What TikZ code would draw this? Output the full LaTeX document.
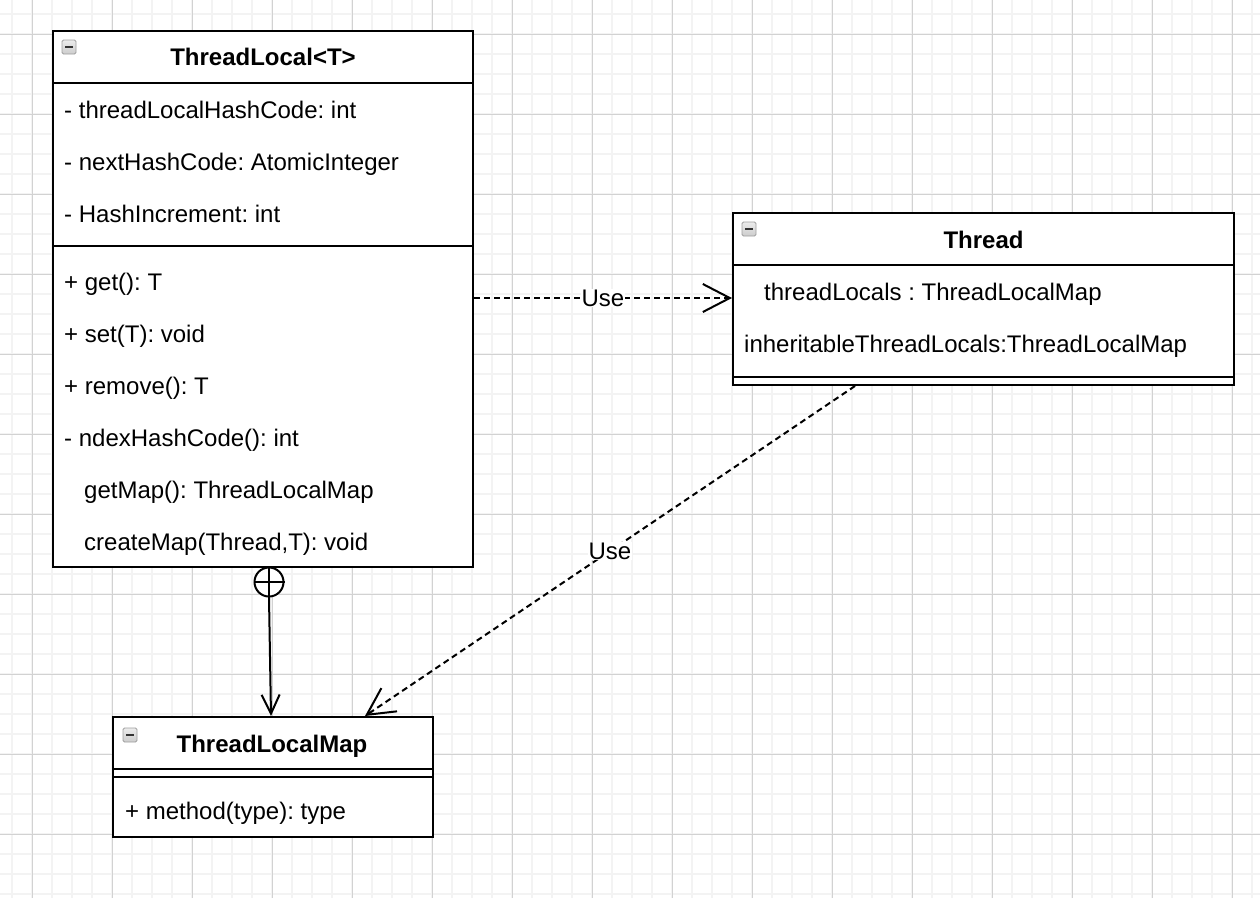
\documentclass[tikz,border=0pt]{standalone}
\usepackage{fontspec}
\setmainfont{Liberation Sans}
\usetikzlibrary{arrows.meta}
\frenchspacing

\definecolor{gridminor}{HTML}{F3F3F3}
\definecolor{gridmajor}{HTML}{D2D2D2}

\tikzset{
  umlclass/.style={rectangle, draw, line width=2pt, fill=white, inner sep=0pt},
  compline/.style={line width=2pt},
  member/.style={anchor=base west, inner sep=0pt},
  classname/.style={anchor=base, inner sep=0pt, font=\fontsize{24}{29}\selectfont\bfseries},
  togglebox/.style={rectangle, draw=gray!75, top color=gray!15, bottom color=gray!40, line width=0.8pt,
    rounded corners=1.5pt, minimum size=14, inner sep=0pt, text=black!80},
  usedep/.style={line width=2pt, dash pattern=on 6pt off 4pt, -{Straight Barb[length=27pt,width=28pt]}},
  nestline/.style={line width=2pt, -{Straight Barb[length=19pt,width=18pt]}},
  uselabel/.style={fill=white, inner sep=1pt}
}

\begin{document}
\begin{tikzpicture}[x=1pt, y=-1pt, font=\fontsize{24}{29}\selectfont]
    \useasboundingbox (0,0) rectangle (1260,898);
    % background grid
    \fill[white] (0,0) rectangle (1260,898);
    \foreach \gx in {12,32,...,1252} \draw[gridminor, line width=2pt] (\gx,0) -- (\gx,898);
    \foreach \gy in {14,34,...,894} \draw[gridminor, line width=2pt] (0,\gy) -- (1260,\gy);
    \foreach \gx in {32,112,...,1252} \draw[gridmajor, line width=1pt] (\gx,0) -- (\gx,898);
    \foreach \gy in {34,114,...,894} \draw[gridmajor, line width=1pt] (0,\gy) -- (1260,\gy);

    % ThreadLocal<T>
    \node[umlclass, minimum width=420, minimum height=536] at (263,299) (TL) {};
    \node[togglebox] at (69,47) (TLtoggle) {\rule{8pt}{2.4pt}};
    \node[classname] at (263,65) (TLname) {ThreadLocal<T>};
    \draw[compline] (TL.west |- 0,83) -- (TL.east |- 0,83);
    \node[member] at (64,118) (TLf1) {- threadLocalHashCode: int};
    \node[member] at (64,170) (TLf2) {- nextHashCode: AtomicInteger};
    \node[member] at (64,222) (TLf3) {- HashIncrement: int};
    \draw[compline] (TL.west |- 0,246) -- (TL.east |- 0,246);
    \node[member] at (64,290) (TLm1) {+ get(): T};
    \node[member] at (64,342) (TLm2) {+ set(T): void};
    \node[member] at (64,394) (TLm3) {+ remove(): T};
    \node[member] at (64,446) (TLm4) {- ndexHashCode(): int};
    \node[member] at (84,498) (TLm5) {getMap(): ThreadLocalMap};
    \node[member] at (84,550) (TLm6) {createMap(Thread,T): void};

    % Thread
    \node[umlclass, minimum width=501, minimum height=172] at (983.5,299) (TH) {};
    \node[togglebox] at (749,229) (THtoggle) {\rule{8pt}{2.4pt}};
    \node[classname] at (983.5,248) (THname) {Thread};
    \draw[compline] (TH.west |- 0,265) -- (TH.east |- 0,265);
    \node[member] at (764,300) (THf1) {threadLocals : ThreadLocalMap};
    \node[member] at (744,352) (THf2) {inheritableThreadLocals:ThreadLocalMap};
    \draw[compline] (TH.west |- 0,377) -- (TH.east |- 0,377);

    % ThreadLocalMap
    \node[umlclass, minimum width=320, minimum height=120] at (273,777) (TM) {};
    \node[togglebox] at (130,735) (TMtoggle) {\rule{8pt}{2.4pt}};
    \node[classname] at (272,752) (TMname) {ThreadLocalMap};
    \draw[compline] (TM.west |- 0,769) -- (TM.east |- 0,769);
    \draw[compline] (TM.west |- 0,777) -- (TM.east |- 0,777);
    \node[member] at (125,819) (TMm1) {+ method(type): type};

    % nesting
    \node[circle, draw, line width=2pt, fill=white, minimum size=29, inner sep=0pt] at (269,582) (nest) {};
    \draw[line width=1.5pt] (nest.north) -- (nest.south) (nest.west) -- (nest.east);
    \draw[nestline] (nest.south) -- (TM.north -| 271,0);

    % dependencies
    \draw[usedep] (TL.east |- 0,298) -- node[uselabel] (use1) {Use} (TH.west |- 0,298);
    \draw[usedep] (TH.south -| 855,0) -- node[uselabel] (use2) {Use} (TM.north -| 365,0);
\end{tikzpicture}
\end{document}
